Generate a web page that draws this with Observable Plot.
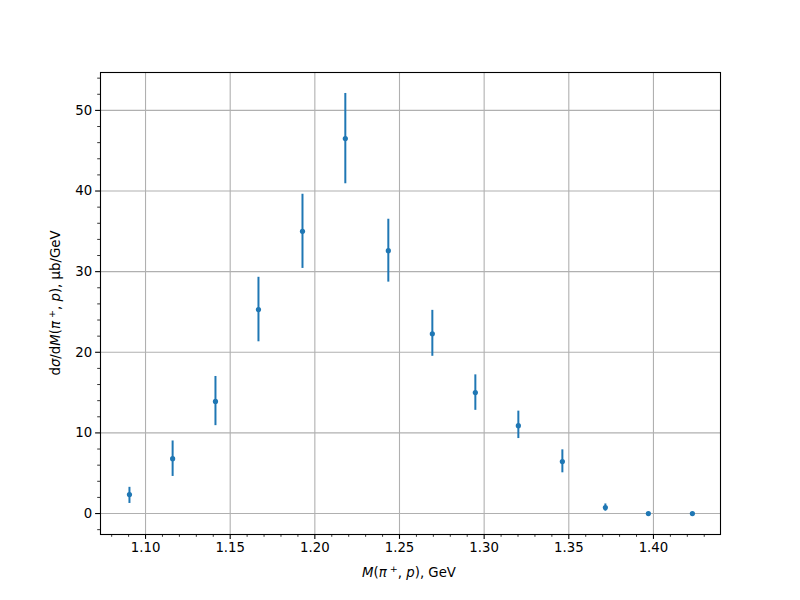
<!DOCTYPE html>
<html><head><meta charset="utf-8">
<script src="https://cdn.jsdelivr.net/npm/d3@7"></script>
<script src="https://cdn.jsdelivr.net/npm/@observablehq/plot@0.6"></script>
<style>body{margin:0;background:#fff;} svg{font-family:"DejaVu Sans",sans-serif;}</style>
</head><body><div id="chart"></div>
<script>
const mass = [1.0905, 1.116, 1.1413, 1.1667, 1.1927, 1.218, 1.2434, 1.2694, 1.2948, 1.3202, 1.3462, 1.3716, 1.397, 1.423];
const sigma = [2.35, 6.8, 13.9, 25.3, 35.0, 46.5, 32.6, 22.3, 15.0, 10.9, 6.45, 0.74, 0.0, 0.0];
const errLow = [1.1, 2.2, 3.0, 4.0, 4.6, 5.6, 3.9, 2.8, 2.2, 1.6, 1.4, 0.45, 0.0, 0.0];
const errHigh = [0.9, 2.2, 3.1, 4.0, 4.6, 5.6, 3.9, 2.9, 2.2, 1.8, 1.45, 0.45, 0.0, 0.0];
const xTicks = [1.10, 1.15, 1.20, 1.25, 1.30, 1.35, 1.40];
const yTicks = [0, 10, 20, 30, 40, 50];

const data = mass.map((m, i) => ({m, s: sigma[i], lo: sigma[i] - errLow[i], hi: sigma[i] + errHigh[i]}));
const xMinor = d3.range(108, 144).map(v => v / 100).filter(v => Math.round(v * 100) % 5 !== 0);
const yMinor = d3.range(-2, 55, 2).filter(v => v % 10 !== 0);

const blue = "#1f77b4";
const FS = 13.3;
const plot = Plot.plot({
  width: 800, height: 600,
  marginLeft: 100, marginRight: 80, marginTop: 72, marginBottom: 66,
  style: {fontFamily: "DejaVu Sans, sans-serif", fontSize: FS + "px", color: "black", background: "white"},
  x: {domain: [1.0734, 1.4396]},
  y: {domain: [-2.6, 54.7]},
  marks: [
    Plot.gridX(xTicks, {stroke: "#b0b0b0", strokeOpacity: 1, strokeWidth: 1.1}),
    Plot.gridY(yTicks, {stroke: "#b0b0b0", strokeOpacity: 1, strokeWidth: 1.1}),
    Plot.axisX(xTicks, {tickSize: 4.9, tickPadding: 3.5, tickFormat: d3.format(".2f"), label: null, fontSize: FS, strokeWidth: 1.1}),
    Plot.axisX(xMinor, {tickSize: 2.8, text: null, label: null, strokeWidth: 0.8}),
    Plot.axisY(yTicks, {tickSize: 4.9, tickPadding: 3.5, label: null, fontSize: FS, strokeWidth: 1.1}),
    Plot.axisY(yMinor, {tickSize: 2.8, text: null, label: null, strokeWidth: 0.8}),
    Plot.ruleX(data, {x: "m", y1: "lo", y2: "hi", stroke: blue, strokeWidth: 2}),
    Plot.dot(data, {x: "m", y: "s", r: 2.6, fill: blue, stroke: "none"}),
    Plot.frame({stroke: "black", strokeWidth: 1.1})
  ]
});
document.getElementById("chart").appendChild(plot);

const svg = d3.select(plot);
// x label: M(π+, p), GeV
const xl = svg.append("text").attr("x", 409).attr("y", 577).attr("text-anchor", "middle")
  .attr("font-size", FS).attr("fill", "black").attr("font-family", "DejaVu Sans, sans-serif");
xl.append("tspan").attr("font-style", "italic").text("M");
xl.append("tspan").text("(");
xl.append("tspan").attr("font-style", "italic").text("π");
xl.append("tspan").attr("font-size", 9.5).attr("dy", -5).text(" +");
xl.append("tspan").attr("dy", 5).text(", ");
xl.append("tspan").attr("font-style", "italic").text("p");
xl.append("tspan").text("), GeV");

// y label
const yl = svg.append("text").attr("transform", "translate(60,303) rotate(-90)").attr("text-anchor", "middle")
  .attr("font-size", FS).attr("fill", "black").attr("font-family", "DejaVu Sans, sans-serif");
yl.append("tspan").text("d");
yl.append("tspan").attr("font-style", "italic").text("σ");
yl.append("tspan").text("/d");
yl.append("tspan").attr("font-style", "italic").text("M");
yl.append("tspan").text("(");
yl.append("tspan").attr("font-style", "italic").text("π");
yl.append("tspan").attr("font-size", 9.5).attr("dy", -5).text(" +");
yl.append("tspan").attr("dy", 5).text(", ");
yl.append("tspan").attr("font-style", "italic").text("p");
yl.append("tspan").text("), μb/GeV");
</script>
</body></html>
